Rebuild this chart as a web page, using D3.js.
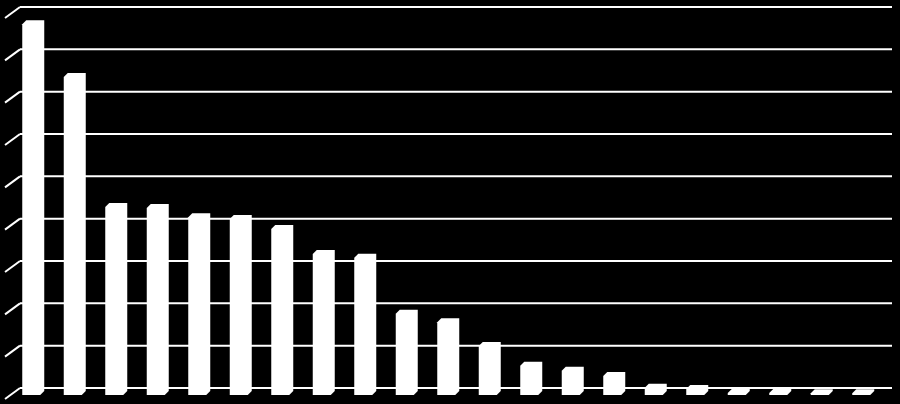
<!DOCTYPE html>
<html>
<head>
<meta charset="utf-8">
<script src="https://cdn.jsdelivr.net/npm/d3@7"></script>
<style>
  html, body { margin: 0; padding: 0; background: #000; }
  svg { display: block; }
</style>
</head>
<body>
<div id="chart"></div>
<script>
// categories (no labels shown on the chart) and their values
var categories = ["1", "2", "3", "4", "5", "6", "7", "8", "9", "10", "11",
                  "12", "13", "14", "15", "16", "17", "18", "19", "20", "21"];
var values = [87.6, 75.1, 44.4, 44.2, 42.0, 41.6, 39.2, 33.3, 32.4, 19.2, 17.2,
              11.6, 6.9, 5.7, 4.5, 1.7, 1.4, 0.5, 0.5, 0.4, 0.4];
var yTicks = [0, 10, 20, 30, 40, 50, 60, 70, 80, 90];

var width = 900, height = 404;

var svg = d3.select("#chart").append("svg")
  .attr("width", width)
  .attr("height", height);

svg.append("rect")
  .attr("width", width)
  .attr("height", height)
  .attr("fill", "#000");

// back wall scale
var y = d3.scaleLinear().domain([0, 90]).range([388, 7]);

// bars sit a bit in front of the back wall
var x = d3.scaleBand().domain(categories).range([12.5, 884]).padding(0);

// depth of the side wall and of a single bar
var wallDx = 15, wallDy = 11;
var barDx = 4, barDy = 4, frontW = 18, frontOff = 7;

// gridlines on the back wall
var grid = svg.append("g");
grid.selectAll("line.h")
  .data(yTicks)
  .join("line")
  .attr("class", "h")
  .attr("x1", 20)
  .attr("x2", 892)
  .attr("y1", d => y(d))
  .attr("y2", d => y(d))
  .attr("stroke", "#fff")
  .attr("stroke-width", 2);

// gridlines on the side wall
grid.selectAll("line.d")
  .data(yTicks)
  .join("line")
  .attr("class", "d")
  .attr("x1", 20 - wallDx)
  .attr("x2", 20)
  .attr("y1", d => y(d) + wallDy)
  .attr("y2", d => y(d))
  .attr("stroke", "#fff")
  .attr("stroke-width", 2);

// 3D columns, drawn as one white outline each
svg.append("g")
  .selectAll("path")
  .data(values)
  .join("path")
  .attr("d", function(v, i) {
    var cx = x(categories[i]) + x.bandwidth() / 2;
    var left = cx - 11;
    var right = left + frontW;
    var base = y(0) + frontOff;
    var top = y(v) + frontOff;
    return "M" + left + "," + base +
      "L" + right + "," + base +
      "L" + (right + barDx) + "," + (base - barDy) +
      "L" + (right + barDx) + "," + (top - barDy) +
      "L" + (left + barDx) + "," + (top - barDy) +
      "L" + left + "," + top + "Z";
  })
  .attr("fill", "#fff");
</script>
</body>
</html>
